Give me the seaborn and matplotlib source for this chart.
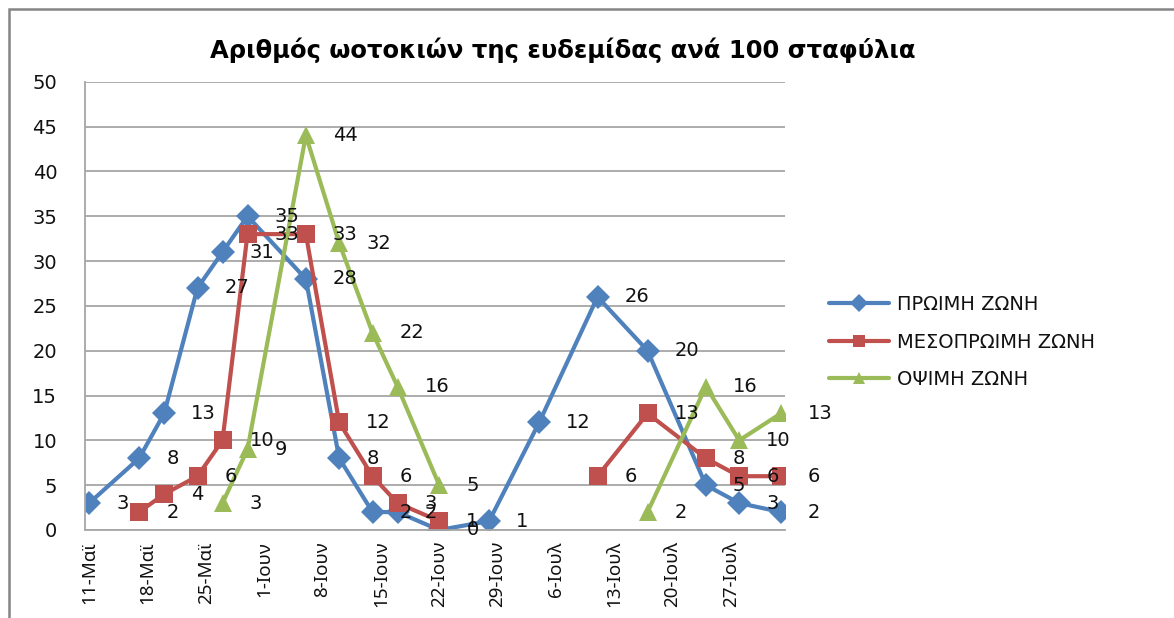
import numpy as np
import pandas as pd
import seaborn as sns
import matplotlib.pyplot as plt
from matplotlib.patches import Rectangle

# ημερομηνίες δειγματοληψίας (το έτος είναι ενδεικτικό)
dates = ["2009-05-11", "2009-05-17", "2009-05-20", "2009-05-24", "2009-05-27",
         "2009-05-30", "2009-06-06", "2009-06-10", "2009-06-14", "2009-06-17",
         "2009-06-22", "2009-06-28", "2009-07-04", "2009-07-11", "2009-07-17",
         "2009-07-24", "2009-07-28", "2009-08-02"]

proimi = [3, 8, 13, 27, 31, 35, 28, 8, 2, 2, 0, 1, 12, 26, 20, 5, 3, 2]
mesoproimi = [np.nan, 2, 4, 6, 10, 33, 33, 12, 6, 3, 1, np.nan, np.nan, 6, 13, 8, 6, 6]
opsimi = [np.nan, np.nan, np.nan, np.nan, 3, 9, 44, 32, 22, 16, 5, np.nan, np.nan, np.nan,
          2, 16, 10, 13]

zones = ["ΠΡΩΙΜΗ ΖΩΝΗ", "ΜΕΣΟΠΡΩΙΜΗ ΖΩΝΗ", "ΟΨΙΜΗ ΖΩΝΗ"]
colors = ["#4F81BD", "#C0504D", "#9BBB59"]
markers = ["D", "s", "^"]

tick_dates = ["2009-05-11", "2009-05-18", "2009-05-25", "2009-06-01", "2009-06-08",
              "2009-06-15", "2009-06-22", "2009-06-29", "2009-07-06", "2009-07-13",
              "2009-07-20", "2009-07-27"]
tick_labels = ["11-Μαϊ", "18-Μαϊ", "25-Μαϊ", "1-Ιουν", "8-Ιουν", "15-Ιουν",
               "22-Ιουν", "29-Ιουν", "6-Ιουλ", "13-Ιουλ", "20-Ιουλ", "27-Ιουλ"]

title = "Αριθμός ωοτοκιών της ευδεμίδας ανά 100 σταφύλια"

# long format, με αριθμό τμήματος ώστε τα κενά να σπάνε τη γραμμή
rows = []
for zone, vals in zip(zones, [proimi, mesoproimi, opsimi]):
    seg = 0
    for d, v in zip(dates, vals):
        if np.isnan(v):
            seg += 1
            continue
        rows.append({"date": pd.Timestamp(d), "value": v, "zone": zone, "seg": seg})
df = pd.DataFrame(rows)

sns.set_style("white")
plt.rcParams["font.family"] = ["DejaVu Sans"]
plt.rcParams["text.color"] = "black"

fig, ax = plt.subplots(figsize=(11.74, 6.18), dpi=100)
fig.subplots_adjust(left=0.0724, right=0.6687, bottom=0.1424, top=0.8678)

sns.lineplot(data=df, x="date", y="value", hue="zone", style="zone", units="seg",
             estimator=None, hue_order=zones, style_order=zones,
             palette=dict(zip(zones, colors)), markers=dict(zip(zones, markers)),
             dashes=False, linewidth=3, markersize=12.5, markeredgewidth=0, ax=ax)

# ετικέτες τιμών δεξιά από κάθε σημείο
for _, r in df.iterrows():
    ax.annotate(f"{int(r['value'])}", (r["date"], r["value"]), xytext=(19.5, 0),
                textcoords="offset points", ha="left", va="center",
                fontsize=14, color="#111111", annotation_clip=False)

ax.set_ylim(0, 50)
ax.set_yticks(range(0, 51, 5))
ax.set_xlim(pd.Timestamp("2009-05-11") - pd.Timedelta(hours=12),
            pd.Timestamp("2009-08-02") + pd.Timedelta(hours=12))
ax.set_xticks(pd.to_datetime(tick_dates))
ax.set_xticklabels(tick_labels, rotation=90, fontsize=13.5, family=["Noto Sans", "DejaVu Sans"])
ax.set_xlabel("")
ax.set_ylabel("")
ax.tick_params(axis="y", length=0, pad=20, labelsize=14, labelcolor="#111111")
ax.tick_params(axis="x", length=0, pad=8, labelcolor="#111111")

ax.yaxis.grid(True, color="#a6a6a6", linewidth=1.3)
ax.xaxis.grid(False)
for s in ["top", "right"]:
    ax.spines[s].set_visible(False)
for s in ["left", "bottom"]:
    ax.spines[s].set_color("#a6a6a6")
    ax.spines[s].set_linewidth(1.3)

handles, labels = ax.get_legend_handles_labels()
for h in handles:
    h.set_linewidth(3)
    h.set_markersize(9)
leg = ax.legend(handles, labels, loc="center left", bbox_to_anchor=(829 / 1174, 1 - 342 / 618),
                bbox_transform=fig.transFigure, frameon=False, fontsize=14,
                handlelength=3.1, handletextpad=0.4, labelspacing=0.95,
                borderpad=0, borderaxespad=0)
for t in leg.get_texts():
    t.set_color("#111111")

fig.text(563 / 1174, 1 - 50 / 618, title, ha="center", va="center",
         fontsize=17.5, fontweight="bold", color="black")

# περίγραμμα περιοχής γραφήματος
fig.add_artist(Rectangle((9 / 1174, -0.1), 1.2, 1.1 - 9 / 618, fill=False,
                         edgecolor="#858585", linewidth=1.8,
                         transform=fig.transFigure, clip_on=False))

fig.savefig("out.png", dpi=100)
